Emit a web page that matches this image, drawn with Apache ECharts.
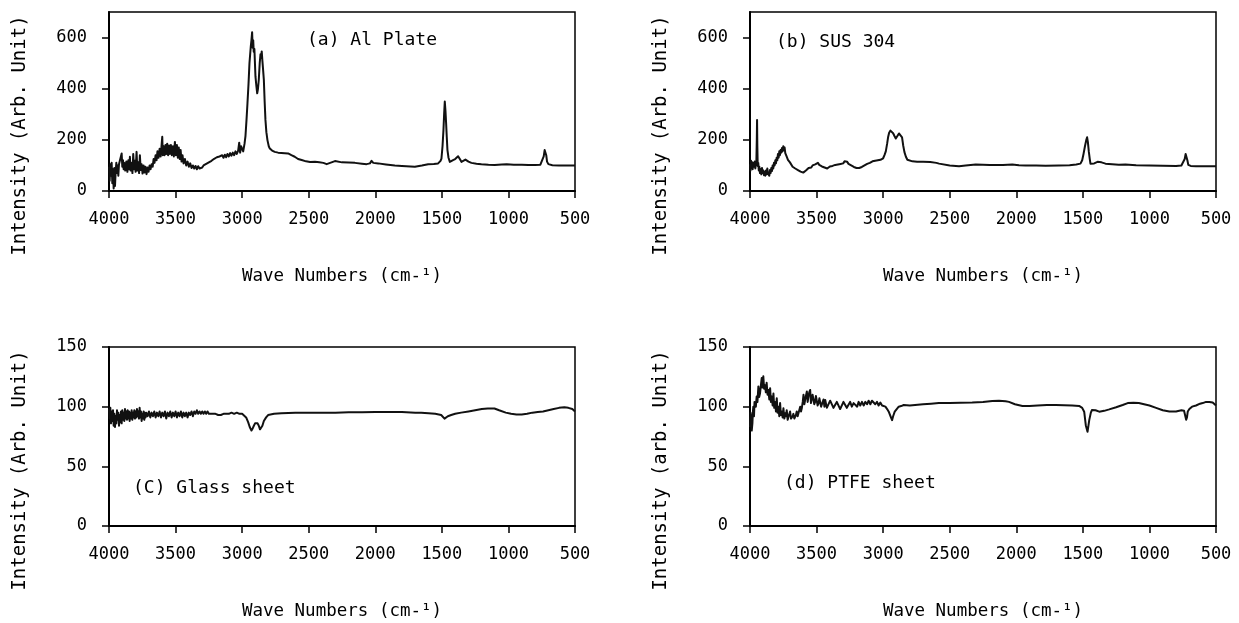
<!DOCTYPE html>
<html>
<head>
<meta charset="utf-8">
<script src="https://cdn.jsdelivr.net/npm/echarts@6/dist/echarts.min.js"></script>
<style>
  html, body { margin: 0; padding: 0; background: #fff; }
  #chart { width: 1239px; height: 623px; }
</style>
</head>
<body>
<div id="chart"></div>
<script>
// FT-IR spectra, [wave number (cm-1), intensity (arb. unit)]
const alPlate = [
  [4000,95],[3995,40],[3990,105],[3985,60],[3980,110],[3975,30],[3970,85],[3965,10],[3960,90],[3955,20],
  [3950,75],[3945,110],[3940,70],[3935,100],[3930,60],[3925,105],[3918,110],[3910,100],[3905,147],[3900,95],
  [3895,120],[3890,85],[3885,110],[3878,80],[3870,115],[3862,75],[3855,120],[3848,85],[3843,134],[3838,80],
  [3830,110],[3824,70],[3818,145],[3812,85],[3806,118],[3800,75],[3793,153],[3787,80],[3780,112],[3774,70],
  [3768,140],[3762,82],[3755,105],[3748,68],[3740,100],[3733,72],[3726,95],[3718,66],[3710,92],[3703,75],
  [3695,100],[3688,85],[3680,105],[3672,95],[3665,125],[3658,110],[3650,140],[3643,120],[3636,155],[3628,130],
  [3620,165],[3612,135],[3605,180],[3600,212],[3596,140],[3590,175],[3583,140],[3576,180],[3570,145],[3563,185],
  [3556,140],[3549,178],[3542,145],[3535,180],[3528,140],[3520,175],[3513,135],[3505,192],[3498,140],[3490,180],
  [3483,130],[3476,170],[3469,125],[3462,160],[3455,115],[3448,140],[3440,108],[3430,125],[3420,100],[3410,115],
  [3400,95],[3390,108],[3380,90],[3370,100],[3360,88],[3350,98],[3340,85],[3330,97],[3320,88],[3310,95],
  [3300,92],[3290,100],[3280,96],[3270,106],[3260,100],[3250,112],[3240,106],[3230,118],[3220,112],[3210,126],
  [3200,120],[3190,132],[3180,125],[3170,135],[3160,128],[3150,140],[3140,130],[3130,142],[3120,132],[3110,145],
  [3100,135],[3090,148],[3080,138],[3070,150],[3060,140],[3050,155],[3040,145],[3030,158],[3022,189],[3015,150],
  [3008,175],[3000,165],[2992,155],[2982,185],[2975,215],[2967,280],[2960,343],[2952,420],[2945,500],[2935,566],
  [2930,590],[2925,621],[2921,560],[2917,590],[2913,545],[2908,555],[2900,448],[2893,410],[2887,382],[2881,400],
  [2875,435],[2868,500],[2862,535],[2858,520],[2853,546],[2848,510],[2842,470],[2837,435],[2831,350],[2825,278],
  [2818,230],[2810,199],[2800,175],[2792,166],[2775,158],[2755,153],[2730,150],[2705,149],[2680,148],[2655,147],
  [2630,140],[2605,134],[2580,125],[2553,121],[2520,116],[2490,113],[2453,114],[2420,112],[2390,110],[2365,105],
  [2350,110],[2303,117],[2250,112],[2200,111],[2153,110],[2100,107],[2065,105],[2040,108],[2028,118],[2015,110],
  [1978,108],[1920,104],[1853,100],[1800,98],[1703,95],[1650,100],[1603,105],[1560,106],[1528,108],[1510,118],
  [1503,127],[1495,175],[1488,238],[1483,300],[1478,350],[1473,315],[1468,265],[1463,210],[1458,160],[1450,130],
  [1440,114],[1428,116],[1416,121],[1400,125],[1390,132],[1378,136],[1365,125],[1353,114],[1340,118],[1323,123],
  [1300,115],[1278,110],[1240,107],[1203,105],[1150,103],[1103,102],[1050,104],[1013,105],[960,103],[900,103],
  [850,102],[800,102],[760,103],[745,110],[735,135],[728,160],[722,165],[716,140],[710,115],[700,105],
  [670,101],[620,100],[560,100],[500,100]
];

const sus304 = [
  [4000,105],[3996,80],[3992,118],[3988,90],[3984,112],[3980,85],[3975,110],[3970,95],[3965,115],[3960,88],
  [3956,105],[3952,120],[3949,200],[3947,278],[3945,180],[3942,98],[3938,110],[3934,80],[3930,95],[3925,70],
  [3920,85],[3915,65],[3910,90],[3905,70],[3900,80],[3895,62],[3890,75],[3885,60],[3880,80],[3875,65],
  [3870,88],[3865,68],[3860,75],[3855,60],[3850,82],[3845,70],[3840,90],[3835,78],[3830,100],[3825,88],
  [3820,110],[3815,100],[3810,120],[3805,108],[3800,130],[3795,120],[3790,145],[3785,130],[3780,155],[3775,140],
  [3770,160],[3765,150],[3760,168],[3755,155],[3750,175],[3745,160],[3740,170],[3735,148],[3730,155],[3725,135],
  [3720,140],[3715,122],[3710,128],[3700,112],[3690,105],[3680,95],[3670,98],[3660,88],[3650,90],[3640,82],
  [3630,84],[3620,76],[3610,78],[3600,72],[3590,76],[3580,80],[3570,86],[3560,90],[3550,95],[3540,92],
  [3530,100],[3520,96],[3510,104],[3500,100],[3490,110],[3480,102],[3470,106],[3460,96],[3450,100],[3440,92],
  [3430,96],[3420,88],[3410,92],[3400,96],[3390,100],[3380,98],[3370,104],[3360,102],[3350,108],[3340,104],
  [3330,110],[3320,106],[3310,112],[3300,108],[3290,116],[3280,110],[3270,114],[3260,106],[3250,108],[3240,100],
  [3230,100],[3220,94],[3210,94],[3200,90],[3190,92],[3180,90],[3170,92],[3160,94],[3150,96],[3140,100],
  [3130,102],[3120,106],[3110,108],[3100,110],[3090,112],[3080,116],[3070,118],[3060,118],[3050,122],[3040,120],
  [3030,124],[3020,122],[3010,126],[3000,128],[2990,140],[2980,155],[2970,185],[2963,210],[2955,228],[2945,236],
  [2935,232],[2925,226],[2915,215],[2905,205],[2898,200],[2890,212],[2881,225],[2873,232],[2866,230],[2858,210],
  [2849,177],[2840,152],[2829,134],[2818,122],[2807,118],[2780,116],[2745,114],[2700,114],[2646,113],[2600,110],
  [2580,107],[2500,100],[2430,97],[2380,100],[2305,104],[2250,103],[2200,102],[2100,102],[2030,104],[1980,101],
  [1930,100],[1850,100],[1780,99],[1680,100],[1600,101],[1550,104],[1518,107],[1505,120],[1495,145],[1485,173],
  [1475,198],[1468,210],[1462,190],[1455,153],[1448,125],[1443,107],[1430,106],[1415,108],[1405,110],[1390,114],
  [1375,118],[1360,112],[1345,108],[1330,107],[1280,105],[1230,103],[1180,104],[1100,101],[1000,100],[900,99],
  [800,98],[760,100],[745,105],[735,125],[728,145],[722,142],[715,120],[708,102],[690,98],[650,97],
  [600,97],[550,97],[500,97]
];

const glassSheet = [
  [4000,98],[3995,90],[3990,99],[3985,86],[3980,96],[3975,88],[3970,97],[3965,84],[3960,94],[3955,83],
  [3950,92],[3945,86],[3940,97],[3935,89],[3930,95],[3925,84],[3920,93],[3915,87],[3910,96],[3905,86],
  [3900,97],[3895,89],[3890,95],[3885,88],[3880,98],[3875,90],[3870,96],[3865,89],[3860,97],[3855,90],
  [3850,96],[3845,88],[3840,95],[3835,90],[3830,97],[3825,89],[3820,95],[3815,91],[3810,97],[3805,90],
  [3800,96],[3795,91],[3790,98],[3785,92],[3780,96],[3775,90],[3770,99],[3765,91],[3760,96],[3755,88],
  [3750,94],[3745,90],[3740,96],[3735,89],[3730,95],[3725,91],[3720,95],[3710,92],[3700,96],[3690,91],
  [3680,95],[3670,92],[3660,96],[3650,91],[3640,95],[3630,92],[3620,96],[3610,91],[3600,95],[3590,92],
  [3580,96],[3570,90],[3560,95],[3550,92],[3540,96],[3530,91],[3520,95],[3510,92],[3500,96],[3490,91],
  [3480,95],[3470,92],[3460,96],[3450,91],[3440,95],[3430,92],[3420,95],[3410,91],[3400,95],[3390,93],
  [3380,96],[3370,92],[3360,96],[3350,94],[3340,97],[3330,94],[3320,96],[3310,94],[3300,96],[3290,94],
  [3280,96],[3270,94],[3260,96],[3250,94],[3240,95],[3230,94],[3220,95],[3200,94],[3180,93],[3160,93],
  [3140,94],[3120,94],[3100,94],[3080,95],[3060,94],[3040,95],[3020,94],[3000,94],[2985,93],[2970,91],
  [2955,87],[2943,83],[2930,80],[2920,82],[2912,84],[2903,86],[2893,87],[2884,86],[2875,84],[2866,81],
  [2857,80],[2848,84],[2837,88],[2820,91],[2805,93],[2760,94],[2705,94.5],[2600,95],[2500,95],[2405,95],
  [2300,95],[2200,95.3],[2100,95.3],[2000,95.5],[1905,95.5],[1800,95.5],[1700,95],[1655,95],[1600,94.5],[1550,94],
  [1505,93],[1490,92],[1480,90],[1475,89],[1468,90.5],[1455,92],[1430,93],[1400,94],[1355,95],[1300,96],
  [1250,97],[1200,98],[1155,98.5],[1105,98.5],[1070,97],[1020,95],[980,94],[940,93.5],[900,93.5],[860,94],
  [820,95],[780,95.5],[740,96],[700,97],[660,98],[620,99],[580,99.5],[550,99],[520,98],[500,96]
];

const ptfeSheet = [
  [4000,83],[3996,95],[3992,91.5],[3987,80],[3982,86],[3978,96],[3975,100],[3970,92],[3966,104],[3962,103],
  [3956,100],[3950,108.5],[3944,104],[3937,117],[3931,108],[3925,111],[3918,118],[3912,124],[3906,116],[3900,125.4],
  [3894,115],[3887,118],[3881,112],[3875,120],[3868,110],[3862,114],[3855,106],[3849,115.5],[3843,104],[3837,108.5],
  [3830,101],[3824,111],[3818,99],[3812,104],[3805,96],[3799,107],[3793,95],[3787,100],[3780,92],[3774,103],
  [3768,93],[3762,96],[3755,91],[3749,98.6],[3742,90],[3736,94.4],[3730,92],[3724,97],[3717,89],[3711,91.5],
  [3705,90],[3699,96],[3692,90],[3686,89.3],[3680,92],[3674,94],[3667,90],[3661,91.5],[3655,93],[3649,96],
  [3642,92],[3636,93],[3630,97],[3623,100],[3617,96],[3611,98.6],[3604,104],[3598,110],[3592,102],[3586,105.6],
  [3580,109],[3573,112.7],[3567,104],[3561,108.5],[3555,112],[3548,114],[3542,103],[3536,107],[3530,110],[3523,111],
  [3517,102],[3511,104],[3505,109],[3498,110],[3492,101],[3485,103],[3479,107],[3473,108.5],[3466,100],[3460,101.4],
  [3448,106],[3441,100],[3435,105.6],[3423,99],[3410,100],[3398,105],[3385,104],[3373,99],[3360,100],[3348,104],
  [3335,103],[3323,98],[3310,99.4],[3298,104],[3285,103.4],[3273,99],[3260,100.6],[3248,104],[3235,100],[3222,103],
  [3209,103],[3195,100],[3184,104],[3172,101],[3159,104],[3146,101],[3134,104],[3121,102],[3109,105],[3096,102],
  [3084,105],[3071,106],[3059,102],[3046,104],[3034,101],[3021,103.4],[3008,101],[2996,101.4],[2983,100],[2970,98],
  [2958,95.8],[2945,92],[2933,88.7],[2925,92],[2913,95.8],[2898,98],[2883,100],[2865,100.5],[2845,101.4],[2800,101],
  [2760,101.4],[2700,102],[2640,102.5],[2582,103],[2500,103],[2420,103.2],[2331,103.4],[2250,104],[2180,104.8],[2130,105],
  [2080,104.6],[2055,104],[2010,102],[1954,100.6],[1900,100.6],[1840,101],[1770,101.4],[1703,101.4],[1640,101.2],[1580,101],
  [1528,100.6],[1505,99],[1490,95.8],[1478,84.5],[1465,78.9],[1452,88.7],[1440,95],[1432,97.2],[1405,97],[1377,95.8],
  [1340,96.5],[1302,97.7],[1250,99.5],[1201,101.4],[1163,103],[1120,103.3],[1080,103],[1040,102],[1000,101],[950,99],
  [900,97],[850,96],[800,96],[760,97],[740,96.5],[730,95],[724,89],[718,91],[712,96],[700,98],
  [680,100],[650,101],[620,102.5],[600,103],[575,104],[550,104],[525,103.5],[500,101]
];

const spectra = [alPlate, sus304, glassSheet, ptfeSheet];
const panelNames = ['(a) Al Plate', '(b) SUS 304', '(C) Glass sheet', '(d) PTFE sheet'];
const yTitles = ['Intensity (Arb. Unit)', 'Intensity (Arb. Unit)', 'Intensity (Arb. Unit)', 'Intensity (arb. Unit)'];
const xTitle = 'Wave Numbers (cm-\u00b9)';
const yTicksTop = [0, 200, 400, 600];
const yTicksBottom = [0, 50, 100, 150];
const yMaxes = [700, 700, 150, 150];

const FONT = '"DejaVu Sans Mono", "Liberation Mono", monospace';

// plot boxes: [left, top, width, height]
const boxes = [
  [109, 12, 466, 179],
  [750, 12, 466, 179],
  [109, 347, 466, 179],
  [750, 347, 466, 179]
];
// panel caption anchors (left, middle)
const captionPos = [[307, 40], [776, 42], [133, 488], [784, 483]];

const grids = [], xAxes = [], yAxes = [], series = [], graphics = [];
const plain = v => String(v);

boxes.forEach((b, i) => {
  grids.push({
    left: b[0], top: b[1], width: b[2], height: b[3],
    show: true, borderColor: '#000', borderWidth: 1.5, backgroundColor: 'transparent',
    containLabel: false, outerBoundsMode: 'none'
  });
  xAxes.push({
    type: 'value', gridIndex: i, inverse: true, min: 500, max: 4000, interval: 500,
    axisLine: { show: true, lineStyle: { color: '#000', width: 2 } },
    axisTick: { show: true, inside: false, length: 7, lineStyle: { color: '#000', width: 1.5 } },
    axisLabel: { color: '#000', fontFamily: FONT, fontSize: 17, margin: 20, formatter: plain },
    splitLine: { show: false }
  });
  const ticks = i < 2 ? yTicksTop : yTicksBottom;
  yAxes.push({
    type: 'value', gridIndex: i, min: 0, max: yMaxes[i], interval: ticks[1],
    axisLine: { show: true, lineStyle: { color: '#000', width: 2 } },
    axisTick: { show: true, inside: false, length: 7, lineStyle: { color: '#000', width: 1.5 }, customValues: ticks },
    axisLabel: { color: '#000', fontFamily: FONT, fontSize: 17, margin: 22, customValues: ticks, formatter: plain },
    splitLine: { show: false }
  });
  series.push({
    type: 'line', xAxisIndex: i, yAxisIndex: i, data: spectra[i],
    showSymbol: false, symbol: 'none', smooth: false,
    lineStyle: { color: '#111', width: 2, join: 'round' },
    silent: true
  });
  // x-axis title
  graphics.push({
    type: 'text', x: b[0] + b[2] / 2, y: b[1] + b[3] + 85,
    style: { text: xTitle, font: '17.5px ' + FONT, fill: '#000', textAlign: 'center', textVerticalAlign: 'middle' }
  });
  // y-axis title
  graphics.push({
    type: 'text', x: b[0] - 89, y: b[1] + b[3] / 2 + 34, rotation: Math.PI / 2,
    style: { text: yTitles[i], font: '19px ' + FONT, fill: '#000', textAlign: 'center', textVerticalAlign: 'middle' }
  });
  // panel caption
  graphics.push({
    type: 'text', x: captionPos[i][0], y: captionPos[i][1],
    style: { text: panelNames[i], font: '18px ' + FONT, fill: '#000', textAlign: 'left', textVerticalAlign: 'middle' }
  });
});

const chart = echarts.init(document.getElementById('chart'), null, { renderer: 'canvas' });
chart.setOption({
  backgroundColor: '#fff',
  animation: false,
  grid: grids,
  xAxis: xAxes,
  yAxis: yAxes,
  series: series,
  graphic: graphics
});
</script>
</body>
</html>
